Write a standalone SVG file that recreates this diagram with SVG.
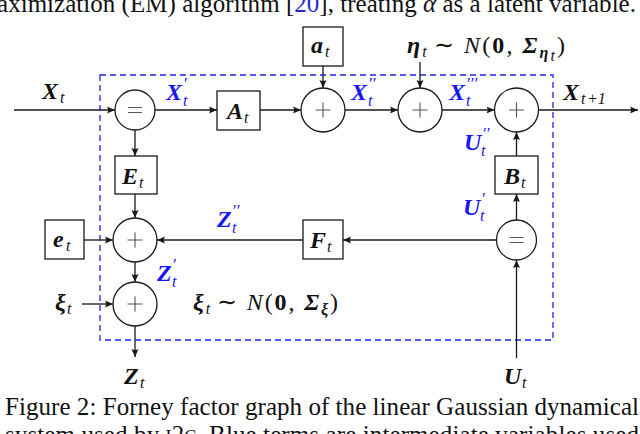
<svg xmlns="http://www.w3.org/2000/svg" width="640" height="434" viewBox="0 0 640 434">
<style>
.bg{fill:#fff}
.node circle,.node rect{fill:#fff;stroke:#1a1a1a;stroke-width:1.3}
.sym{stroke:#555;stroke-width:1.1;fill:none}
.edge{stroke:#1a1a1a;stroke-width:1.3;fill:none;marker-end:url(#ah)}
.v{font-family:"Liberation Serif","Times New Roman",serif;font-style:italic;font-weight:bold;font-size:24px;fill:#111}
.s{font-family:"Liberation Serif","Times New Roman",serif;font-style:italic;font-size:16px;fill:#111}
.p{font-family:"Liberation Serif","Times New Roman",serif;font-size:17px;fill:#111}
.r{font-family:"Liberation Serif","Times New Roman",serif;font-size:24px;fill:#111}
.blue{fill:#1515f5}
.cap{font-family:"Liberation Serif","Times New Roman",serif;font-size:25px;fill:#111}
</style>
<defs>
<marker id="ah" viewBox="0 -4 8 8" refX="8" refY="0" markerWidth="8" markerHeight="8" markerUnits="userSpaceOnUse" orient="auto">
<path d="M0,-3.5 L8,0 L0,3.5 Q2.2,0 0,-3.5z" fill="#1a1a1a"/>
</marker>
</defs>
<rect class="bg" x="0" y="0" width="640" height="434"/>

<text class="cap" x="-3" y="12" textLength="639" lengthAdjust="spacing">aximization (EM) algorithm [<tspan fill="#2a2acc">20</tspan>], treating <tspan font-style="italic">α</tspan> as a latent variable.</text>

<rect x="100" y="75" width="453" height="265" fill="none" stroke="#2222ff" stroke-width="1.3" stroke-dasharray="6,4"/>

<g id="connectors">
<line class="edge" x1="14" y1="110" x2="115" y2="110"/>
<line class="edge" x1="155" y1="110" x2="217" y2="110"/>
<line class="edge" x1="260" y1="110" x2="301" y2="110"/>
<line class="edge" x1="323" y1="66" x2="323" y2="88"/>
<line class="edge" x1="345" y1="110" x2="398" y2="110"/>
<line class="edge" x1="420" y1="62" x2="420" y2="88"/>
<line class="edge" x1="442" y1="110" x2="494.5" y2="110"/>
<line class="edge" x1="538.5" y1="110" x2="638" y2="110"/>
<line class="edge" x1="516.5" y1="156" x2="516.5" y2="132"/>
<line class="edge" x1="516.5" y1="220" x2="516.5" y2="194"/>
<line class="edge" x1="516.5" y1="358" x2="516.5" y2="260"/>
<line class="edge" x1="496.5" y1="240" x2="343" y2="240"/>
<line class="edge" x1="303" y1="240" x2="157" y2="240"/>
<line class="edge" x1="135" y1="130" x2="135" y2="156"/>
<line class="edge" x1="135" y1="194" x2="135" y2="218"/>
<line class="edge" x1="84" y1="240" x2="113" y2="240"/>
<line class="edge" x1="135" y1="262" x2="135" y2="282"/>
<line class="edge" x1="82" y1="304" x2="113" y2="304"/>
<line class="edge" x1="135" y1="326" x2="135" y2="357"/>
</g>

<g id="eq1" class="node"><circle cx="135" cy="110" r="20"/><path class="sym" d="M128,107.5H142M128,112.5H142"/></g>
<g id="At" class="node"><rect x="217" y="91" width="43" height="39"/><text class="v" x="227" y="119">A</text><text class="s" x="244" y="123">t</text></g>
<g id="plus1" class="node"><circle cx="323" cy="110" r="22"/><path class="sym" d="M315.5,110H330.5M323,102.5V117.5"/></g>
<g id="at" class="node"><rect x="303" y="27" width="40" height="39"/><text class="v" x="311" y="53">a</text><text class="s" x="325" y="57">t</text></g>
<g id="plus2" class="node"><circle cx="420" cy="110" r="22"/><path class="sym" d="M412.5,110H427.5M420,102.5V117.5"/></g>
<g id="plus3" class="node"><circle cx="516.5" cy="110" r="22"/><path class="sym" d="M509,110H524M516.5,102.5V117.5"/></g>
<g id="Bt" class="node"><rect x="495" y="156" width="43" height="38"/><text class="v" x="504" y="184">B</text><text class="s" x="521" y="188">t</text></g>
<g id="eq2" class="node"><circle cx="516.5" cy="240" r="20"/><path class="sym" d="M509.5,237.5H523.5M509.5,242.5H523.5"/></g>
<g id="Ft" class="node"><rect x="303" y="220" width="40" height="39"/><text class="v" x="310" y="248">F</text><text class="s" x="327" y="252">t</text></g>
<g id="Et" class="node"><rect x="115" y="156" width="42" height="38"/><text class="v" x="122" y="184">E</text><text class="s" x="139" y="188">t</text></g>
<g id="plus4" class="node"><circle cx="135" cy="240" r="22"/><path class="sym" d="M127.5,240H142.5M135,232.5V247.5"/></g>
<g id="et" class="node"><rect x="45" y="220" width="39" height="39"/><text class="v" x="53" y="247">e</text><text class="s" x="66" y="251">t</text></g>
<g id="plus5" class="node"><circle cx="135" cy="304" r="22"/><path class="sym" d="M127.5,304H142.5M135,296.5V311.5"/></g>

<g id="labels">
<text class="v" x="42" y="99">X</text><text class="s" x="60" y="103">t</text>
<text class="v blue" x="166" y="100">X</text><text class="p blue" x="184" y="89">′</text><text class="s blue" x="183" y="106">t</text>
<text class="v blue" x="351" y="100">X</text><text class="p blue" x="369" y="89">′′</text><text class="s blue" x="368" y="106">t</text>
<text class="v blue" x="449" y="100">X</text><text class="p blue" x="467" y="89">′′′</text><text class="s blue" x="466" y="106">t</text>
<text class="v" x="563" y="100">X</text><text class="s" x="581" y="104">t</text><text class="s" x="587" y="104" font-style="normal">+1</text>
<text x="407" y="53" textLength="158" lengthAdjust="spacing"><tspan class="v">η</tspan><tspan class="s" dy="4">t</tspan><tspan class="r" dy="-4" dx="5">∼ </tspan><tspan class="r" font-style="italic">N</tspan><tspan class="r">(</tspan><tspan class="r" font-weight="bold">0</tspan><tspan class="r">,  </tspan><tspan class="v">Σ</tspan><tspan class="s" font-weight="bold" dy="5">η</tspan><tspan class="s" font-size="10" dy="3">t</tspan><tspan class="r" dy="-8">)</tspan></text>
<text class="v blue" x="464" y="150">U</text><text class="p blue" x="483" y="139">′′</text><text class="s blue" x="481" y="156">t</text>
<text class="v blue" x="463" y="215">U</text><text class="p blue" x="482" y="204">′</text><text class="s blue" x="480" y="221">t</text>
<text class="v blue" x="217" y="227">Z</text><text class="p blue" x="233" y="216">′′</text><text class="s blue" x="232" y="233">t</text>
<text class="v blue" x="157" y="281">Z</text><text class="p blue" x="173" y="270">′</text><text class="s blue" x="172" y="287">t</text>
<text class="v" x="55" y="310">ξ</text><text class="s" x="67" y="314">t</text>
<text x="193" y="310" textLength="145" lengthAdjust="spacing"><tspan class="v">ξ</tspan><tspan class="s" dy="4">t</tspan><tspan class="r" dy="-4" dx="5">∼ </tspan><tspan class="r" font-style="italic">N</tspan><tspan class="r">(</tspan><tspan class="r" font-weight="bold">0</tspan><tspan class="r">,  </tspan><tspan class="v">Σ</tspan><tspan class="s" font-weight="bold" dy="5">ξ</tspan><tspan class="r" dy="-5">)</tspan></text>
<text class="v" x="124" y="384">Z</text><text class="s" x="140" y="388">t</text>
<text class="v" x="504" y="384">U</text><text class="s" x="522" y="388">t</text>
</g>

<text class="cap" x="5" y="415" textLength="634" lengthAdjust="spacing">Figure 2: Forney factor graph of the linear Gaussian dynamical</text>
<text class="cap" x="5" y="443" textLength="634" lengthAdjust="spacing">system used by <tspan font-variant="small-caps">i2c</tspan>. Blue terms are intermediate variables used</text>
</svg>
